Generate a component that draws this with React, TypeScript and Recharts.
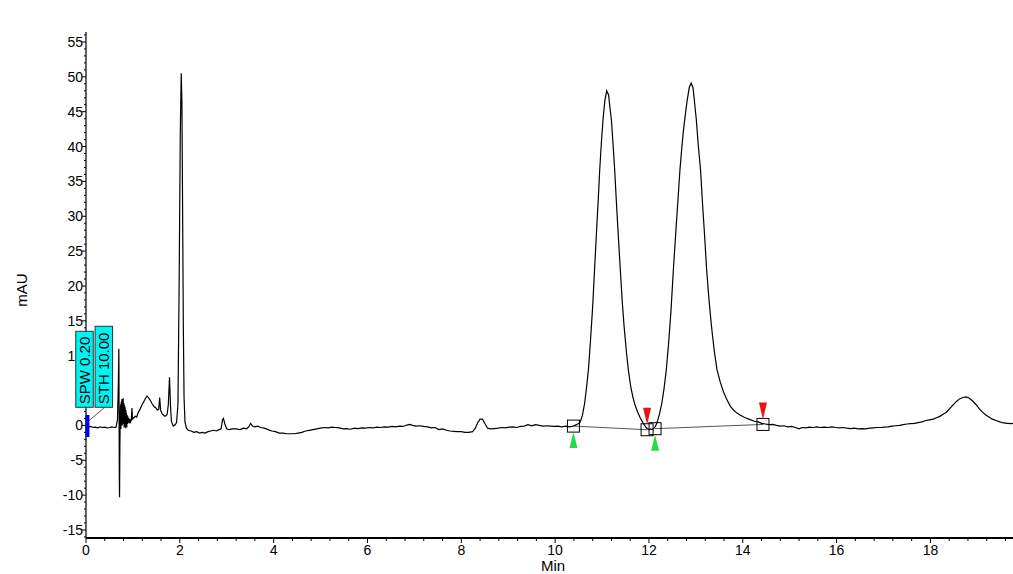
import React from 'react';
import { ComposedChart, Line, Scatter, XAxis, YAxis } from 'recharts';

// ---- chromatogram, split into time segments (min / mAU) ----
const voidTimes = [0.0, 0.05, 0.1, 0.15, 0.2, 0.25, 0.3, 0.35, 0.4, 0.45, 0.5, 0.55, 0.6, 0.64, 0.67, 0.69, 0.7, 0.705, 0.71, 0.715, 0.722,
  0.73, 0.737, 0.744, 0.751, 0.758, 0.765, 0.772, 0.779, 0.786, 0.793, 0.8, 0.807, 0.814, 0.821, 0.828, 0.835, 0.842, 0.849, 0.856, 0.863, 0.87, 0.877, 0.884, 0.891, 0.9, 0.91, 0.92, 0.935, 0.95, 0.965, 0.98, 0.99,
  1.02, 1.05, 1.08, 1.11, 1.15, 1.19, 1.23, 1.27, 1.3, 1.33, 1.37, 1.41, 1.45, 1.49, 1.52, 1.55, 1.57, 1.59, 1.62, 1.65, 1.68, 1.71, 1.73, 1.755, 1.78, 1.8, 1.82, 1.86, 1.9, 1.93, 1.96, 1.985, 2.01, 2.03, 2.045, 2.06, 2.075, 2.09, 2.11, 2.14, 2.18];
const voidSignal = [-0.2, -0.25, -0.15, -0.3, -0.25, -0.35, -0.2, -0.3, -0.25, -0.35, -0.3, -0.2, -0.3, -0.25, 0.8, 6.0, 11.0, 2.0, -7.5, -10.3, -3.0,
  1.8, 3.0, -0.5, 3.4, 0.3, 3.8, 0.0, 3.5, 0.6, 3.9, 0.2, 3.2, -0.3, 2.9, 0.1, 2.6, -0.4, 2.2, 0.0, 1.8, -0.3, 1.5, 0.2, 1.3, 0.4, 1.1, 0.3, 0.9, 0.5, 0.8, 2.5, 0.9,
  1.1, 1.3, 1.2, 1.8, 2.3, 2.9, 3.4, 3.9, 4.2, 4.0, 3.6, 3.1, 2.7, 2.5, 2.2, 2.3, 4.0, 2.2, 1.7, 1.5, 1.3, 1.4, 1.6, 3.0, 6.9, 3.0, 0.6, -0.1, 0.1, 0.4, 3.0, 20.0, 42.0, 50.5, 46.0, 30.0, 14.0, 4.0, 0.5, -0.4, -0.7];

const baselineTimes = [2.24, 2.3, 2.36, 2.42, 2.48, 2.54, 2.6, 2.66, 2.72, 2.78, 2.84, 2.88, 2.91, 2.93, 2.96, 3.0, 3.05, 3.12, 3.2, 3.28, 3.36, 3.42, 3.47, 3.51, 3.55, 3.6, 3.66, 3.72, 3.8, 3.88, 3.96, 4.04, 4.12, 4.2, 4.28, 4.36, 4.44, 4.52, 4.6, 4.68, 4.76, 4.84, 4.92, 5.0, 5.08, 5.16, 5.24, 5.32, 5.4, 5.48, 5.56, 5.64, 5.72, 5.8, 5.88, 5.96, 6.04, 6.12, 6.2, 6.28, 6.36, 6.44, 6.52, 6.6, 6.68, 6.76, 6.84, 6.9, 6.96, 7.04, 7.12, 7.2, 7.28, 7.36, 7.44, 7.52, 7.6, 7.68, 7.76, 7.84, 7.92, 8.0, 8.08, 8.16, 8.24, 8.3, 8.35, 8.4, 8.45, 8.5, 8.56, 8.62, 8.7, 8.78, 8.86, 8.94, 9.02, 9.1, 9.18, 9.26, 9.34, 9.42, 9.5, 9.58, 9.66, 9.74, 9.82, 9.9, 9.98, 10.06, 10.14, 10.22, 10.3, 10.36];
const baselineSignal = [-0.8, -1.0, -0.9, -1.1, -1.0, -1.1, -0.9, -0.8, -0.7, -0.8, -0.6, -0.5, 0.8, 1.0, 0.2, -0.5, -0.6, -0.5, -0.5, -0.6, -0.4, -0.5, -0.2, 0.3, -0.1, -0.2, -0.1, -0.3, -0.4, -0.6, -0.8, -0.9, -1.1, -1.1, -1.2, -1.2, -1.2, -1.1, -1.0, -0.8, -0.7, -0.6, -0.5, -0.4, -0.3, -0.35, -0.25, -0.3, -0.35, -0.5, -0.45, -0.55, -0.4, -0.45, -0.35, -0.4, -0.3, -0.35, -0.25, -0.3, -0.2, -0.25, -0.15, -0.2, -0.1, -0.15, 0.05, 0.15, 0.0, -0.1, -0.05, -0.15, -0.2, -0.35, -0.3, -0.6, -0.5, -0.7, -0.8, -0.85, -0.9, -0.9, -1.0, -1.0, -0.9, -0.4, 0.4, 0.9, 0.9, 0.3, -0.4, -0.5, -0.45, -0.4, -0.3, -0.35, -0.25, -0.2, -0.3, -0.15, -0.1, 0.1, -0.05, 0.1, 0.0, -0.1, -0.05, -0.1, -0.15, -0.1, -0.2, -0.1, -0.2, -0.15];

const peakTimes = [10.42, 10.48, 10.53, 10.58, 10.63, 10.67, 10.71, 10.75, 10.8, 10.84, 10.88, 10.92, 10.95, 10.99, 11.02, 11.06, 11.1, 11.14, 11.17, 11.2, 11.24, 11.27, 11.31, 11.35, 11.39, 11.43, 11.47, 11.52, 11.56, 11.61, 11.66, 11.7, 11.76, 11.82, 11.88, 11.94, 11.99, 12.03, 12.07, 12.11, 12.14, 12.17, 12.22, 12.27, 12.32, 12.37, 12.42, 12.47, 12.52, 12.57, 12.62, 12.66, 12.7, 12.73, 12.77, 12.81, 12.86, 12.9, 12.94, 12.97, 13.01, 13.05, 13.1, 13.14, 13.19, 13.23, 13.28, 13.33, 13.39, 13.45, 13.52, 13.59, 13.66, 13.73, 13.8, 13.87, 13.94, 14.02, 14.09, 14.17, 14.25, 14.33, 14.4];
const peakSignal = [0.0, 0.2, 0.4, 1.4, 3.2, 5.5, 8.0, 11.8, 17.0, 22.3, 27.5, 32.5, 36.6, 41.0, 43.8, 46.6, 48.0, 47.4, 45.5, 43.8, 39.8, 36.6, 31.5, 26.8, 22.3, 17.8, 14.2, 10.5, 8.0, 5.6, 4.0, 3.0, 1.9, 1.0, 0.3, -0.3, -0.6, -0.5, -0.6, -0.4, -0.1, 0.4, 1.5, 3.0, 5.2, 8.0, 11.8, 16.5, 22.3, 27.5, 32.5, 36.6, 39.8, 42.0, 44.3, 46.4, 48.5, 49.1, 48.4, 46.5, 43.8, 40.3, 36.6, 32.0, 26.8, 22.3, 18.0, 14.4, 10.8, 8.0, 6.2, 4.8, 3.7, 2.8, 2.2, 1.8, 1.5, 1.2, 1.0, 0.8, 0.6, 0.5, 0.3];

const tailTimes = [14.48, 14.56, 14.64, 14.72, 14.8, 14.88, 14.96, 15.04, 15.12, 15.2, 15.26, 15.34, 15.42, 15.5, 15.58, 15.66, 15.74, 15.82, 15.9, 15.98, 16.06, 16.14, 16.22, 16.3, 16.38, 16.46, 16.54, 16.62, 16.7, 16.78, 16.86, 16.94, 17.02, 17.1, 17.18, 17.26, 17.34, 17.42, 17.5, 17.58, 17.66, 17.74, 17.82, 17.9, 17.98, 18.06, 18.13, 18.2, 18.27, 18.34, 18.41, 18.48, 18.55, 18.62, 18.69, 18.76, 18.83, 18.9, 18.97, 19.04, 19.11, 19.18, 19.25, 19.32, 19.4, 19.48, 19.56, 19.64, 19.72, 19.76];
const tailSignal = [0.2, 0.1, 0.15, 0.0, -0.1, -0.05, -0.2, -0.15, -0.3, -0.5, -0.3, -0.35, -0.25, -0.3, -0.2, -0.3, -0.25, -0.3, -0.2, -0.3, -0.35, -0.3, -0.4, -0.45, -0.4, -0.5, -0.45, -0.5, -0.4, -0.35, -0.3, -0.3, -0.25, -0.2, -0.1, -0.05, 0.0, 0.1, 0.2, 0.25, 0.3, 0.4, 0.5, 0.7, 0.8, 0.9, 1.1, 1.3, 1.6, 1.9, 2.4, 2.9, 3.4, 3.8, 4.0, 4.1, 3.9, 3.5, 3.0, 2.4, 1.9, 1.5, 1.2, 0.9, 0.7, 0.5, 0.35, 0.3, 0.25, 0.3];

// ---- integration events ----
const eventTimes = [10.39, 11.96, 12.13, 14.43];
const eventLevels = [-0.1, -0.62, -0.47, 0.14];
const eventKinds = ['start', 'end', 'start', 'end'];

// ---- annotations ----
const markerTimes = [0.03, 0.03];
const markerLevels = [1.5, -1.66];
const flagTexts = ['SPW 0.20', 'STH 10.00'];
const flagTimes = [0.0, 0.38];
const flagLevels = [2.6, 2.6];
const flagHeights = [76, 81];
const flagShift = [-1.5, 0];
const connectorTimes = [0.4, 0.04];
const connectorLevels = [2.6, 0.55];

// ---- axes ----
const xMajorTicks = [0, 2, 4, 6, 8, 10, 12, 14, 16, 18];
const yMajorTicks = [-15, -10, -5, 0, 5, 10, 15, 20, 25, 30, 35, 40, 45, 50, 55];
const xDomain = [0, 19.76];
const yDomain = [-16.15, 56.43];
const titleText = 'EH289-11.DATA - Detector 1 Signal (UV)';
const xLabel = 'Min';
const yLabel = 'mAU';

const FONT = '"Liberation Sans", Arial, sans-serif';

const zip = (ts: number[], vs: number[]) => ts.map((t, i) => ({ t, y: vs[i] }));
const trace = [
  ...zip(voidTimes, voidSignal),
  ...zip(baselineTimes, baselineSignal),
  ...zip(peakTimes, peakSignal),
  ...zip(tailTimes, tailSignal),
];
const events = eventTimes.map((t, i) => ({ t, y: eventLevels[i], kind: eventKinds[i] }));
const segA = events.slice(0, 2);
const segB = events.slice(2, 4);
const marker = zip(markerTimes, markerLevels);
const flags = flagTexts.map((text, i) => ({ t: flagTimes[i], y: flagLevels[i], text, h: flagHeights[i], dx: flagShift[i] }));
const connector = zip(connectorTimes, connectorLevels);

const xTicks: number[] = [];
for (let i = 0; i * 0.4 <= xDomain[1]; i++) xTicks.push(Math.round(i * 4) / 10);
const yTicks: number[] = [];
for (let v = -16; v <= 56; v++) yTicks.push(v);

const XTick = (props: any) => {
  const { x, y, payload } = props;
  const v = payload.value;
  const major = xMajorTicks.some((m) => Math.abs(m - v) < 1e-6);
  return (
    <g>
      <line x1={x} x2={x} y1={y} y2={y + (major ? 5 : 3)} stroke="#000" strokeWidth={1} />
      {major && (
        <text x={x} y={y + 7} dy="0.71em" textAnchor="middle" fontSize={14} fontFamily={FONT} fill="#000">
          {v}
        </text>
      )}
    </g>
  );
};

const YTick = (props: any) => {
  const { x, y, payload } = props;
  const v = payload.value;
  const major = yMajorTicks.includes(v);
  return (
    <g>
      <line x1={x - (major ? 4 : 2)} x2={x} y1={y} y2={y} stroke="#000" strokeWidth={1} />
      {major && (
        <text x={x - 3} y={y} dy="0.355em" textAnchor="end" fontSize={14} fontFamily={FONT} fill="#000">
          {v}
        </text>
      )}
    </g>
  );
};

const EventShape = (props: any) => {
  const { cx, cy, payload } = props;
  return (
    <g>
      <rect x={cx - 6} y={cy - 6} width={12} height={12} fill="none" stroke="#000" strokeWidth={1} />
      {payload.kind === 'start' ? (
        <polygon points={`${cx},${cy + 6} ${cx - 4},${cy + 22} ${cx + 4},${cy + 22}`} fill="#22dd44" />
      ) : (
        <polygon points={`${cx - 4},${cy - 22} ${cx + 4},${cy - 22} ${cx},${cy - 5}`} fill="#ee1111" />
      )}
    </g>
  );
};

const FlagShape = (props: any) => {
  const { cx, cy, payload } = props;
  const w = 17.5;
  const c = cx + payload.dx;
  return (
    <g>
      <rect x={c - w / 2} y={cy - payload.h} width={w} height={payload.h} fill="#00f4f4" stroke="#333" strokeWidth={1} />
      <text
        transform={`translate(${c + 5.5},${cy - 3}) rotate(-90)`}
        textAnchor="start"
        fontSize={15}
        fontFamily={FONT}
        fill="#000"
      >
        {payload.text}
      </text>
    </g>
  );
};

export default function App() {
  const extra: any = { zIndex: 2500 };
  return (
    <div style={{ position: 'absolute', left: 0, top: 0, width: 1013, height: 574, background: '#fff' }}>
      <ComposedChart width={1013} height={574} margin={{ top: 32, right: 0, bottom: 0, left: 0 }} style={{ fontFamily: FONT }}>
        <XAxis
          xAxisId="top"
          orientation="top"
          type="number"
          dataKey="t"
          domain={xDomain}
          height={0}
          tick={false}
          tickLine={false}
          axisLine={{ stroke: '#000', strokeWidth: 1 }}
          label={() => (
            <text x={508} y={24} textAnchor="middle" fontSize={15.5} fontFamily={FONT} fill="#000">
              {titleText}
            </text>
          )}
        />
        <XAxis
          type="number"
          dataKey="t"
          domain={xDomain}
          ticks={xTicks}
          interval={0}
          tick={<XTick />}
          tickLine={false}
          tickSize={0}
          tickMargin={0}
          height={36}
          axisLine={{ stroke: '#000', strokeWidth: 2 }}
          label={() => (
            <text x={553} y={571} textAnchor="middle" fontSize={15} fontFamily={FONT} fill="#000">
              {xLabel}
            </text>
          )}
        />
        <YAxis
          type="number"
          dataKey="y"
          domain={yDomain}
          ticks={yTicks}
          interval={0}
          tick={<YTick />}
          tickLine={false}
          tickSize={0}
          tickMargin={0}
          width={86}
          axisLine={{ stroke: '#000', strokeWidth: 1.2 }}
          label={() => (
            <text
              transform="translate(27,290) rotate(-90)"
              textAnchor="middle"
              fontSize={15}
              fontFamily={FONT}
              fill="#000"
            >
              {yLabel}
            </text>
          )}
        />
        <Line data={segA} dataKey="y" stroke="#555" strokeWidth={1} dot={false} activeDot={false} isAnimationActive={false} />
        <Line data={segB} dataKey="y" stroke="#555" strokeWidth={1} dot={false} activeDot={false} isAnimationActive={false} />
        <Line data={trace} dataKey="y" stroke="#000" strokeWidth={1.2} dot={false} activeDot={false} isAnimationActive={false} type="linear" />
        <Scatter data={events} dataKey="y" shape={<EventShape />} isAnimationActive={false} />
        <Line data={connector} dataKey="y" stroke="#555" strokeWidth={1} dot={false} activeDot={false} isAnimationActive={false} {...extra} />
        <Line data={marker} dataKey="y" stroke="#0000ee" strokeWidth={4} dot={false} activeDot={false} isAnimationActive={false} {...extra} />
        <Scatter data={flags} dataKey="y" shape={<FlagShape />} isAnimationActive={false} {...extra} />
      </ComposedChart>
    </div>
  );
}
